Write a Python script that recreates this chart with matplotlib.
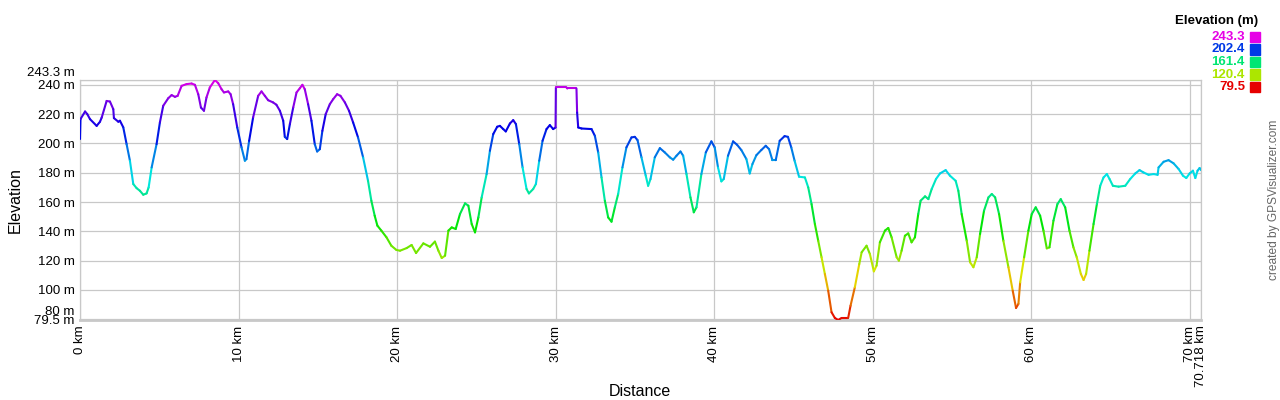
import numpy as np
import matplotlib
matplotlib.use("Agg")
import matplotlib.pyplot as plt
from matplotlib.collections import LineCollection
from matplotlib.colors import hsv_to_rgb
from matplotlib.transforms import ScaledTranslation

plt.rcParams['font.family'] = ['Liberation Sans', 'DejaVu Sans']

# elevation profile: (km, m)
leg1 = [(0, 203), (0.03, 216.6), (0.32, 221.8), (0.46, 220), (0.63, 216.6), (1.05, 212),
        (1.26, 214.8), (1.37, 217.7), (1.68, 229), (1.89, 228.6), (2.10, 223.4), (2.14, 217.3),
        (2.42, 214.8), (2.52, 215.5), (2.73, 211), (2.94, 199.5), (3.15, 188.2), (3.36, 172.3),
        (3.57, 169.5), (3.78, 167.7), (3.99, 165), (4.20, 165.9), (4.33, 170), (4.52, 183.6),
        (4.83, 199.5), (5.04, 214.3), (5.25, 225.7), (5.57, 230.9), (5.78, 233), (5.99, 231.8),
        (6.16, 232.5), (6.41, 239.3), (6.72, 240.5), (7.04, 240.9), (7.25, 240), (7.46, 233.6),
        (7.63, 224.5), (7.82, 222.3), (7.98, 231.4), (8.19, 238.2), (8.51, 243.3), (8.72, 241.1),
        (8.93, 237), (9.08, 234.8), (9.35, 235.5), (9.50, 233.6), (9.66, 226.8), (9.92, 210.9),
        (10.19, 197.3), (10.40, 188.2), (10.50, 189.3), (10.67, 201.8), (10.92, 217.7),
        (11.24, 232.5), (11.45, 235.5), (11.66, 232.5), (11.87, 229.5), (12.18, 228),
        (12.39, 226.4), (12.61, 222.3), (12.82, 215.5), (12.92, 204.5), (13.07, 203),
        (13.24, 213.2), (13.45, 224.5), (13.66, 234.8), (13.87, 237.7), (14.03, 240),
        (14.18, 237), (14.39, 226.8), (14.60, 215.5), (14.81, 199.5), (14.96, 194.5),
        (15.13, 196.1), (15.29, 208.6), (15.50, 220), (15.76, 226.8), (15.97, 230.2),
        (16.22, 233.6), (16.43, 232.5), (16.71, 228), (16.97, 222.3), (17.23, 214.3),
        (17.54, 204.1), (17.86, 190.5), (18.17, 174.5), (18.38, 160.9), (18.59, 150.7),
        (18.76, 143.9), (19.01, 140.5), (19.33, 136), (19.64, 130.2), (19.96, 127.3)]

leg2 = [(20.19, 126.8), (20.61, 128.6), (20.92, 130.7), (21.2, 125.2), (21.66, 131.8),
        (22.08, 129.5), (22.39, 133), (22.61, 126.8), (22.82, 121.8), (23.03, 123.4),
        (23.24, 140.5), (23.45, 142.7), (23.7, 141.6), (23.97, 151.8), (24.29, 159.1),
        (24.5, 157.5), (24.71, 145), (24.92, 139.3), (25.13, 149.5), (25.34, 163.2),
        (25.65, 179.1), (25.86, 195), (26.07, 206.4), (26.32, 211.4), (26.49, 212),
        (26.7, 209.8), (26.86, 208.2), (27.12, 213.6), (27.33, 215.9), (27.5, 213.2),
        (27.71, 199.5), (27.92, 183.6), (28.17, 168.9), (28.32, 165.9), (28.59, 168.9),
        (28.76, 172.3), (28.97, 188.2), (29.18, 201.8), (29.43, 209.8), (29.64, 212.5),
        (29.85, 209.8), (30.0, 210.9), (30.02, 238.2), (30.69, 238.2), (30.74, 237.5),
        (31.32, 237.5), (31.36, 221.1), (31.43, 210.9), (31.64, 210.2), (32.27, 209.8),
        (32.48, 205.2), (32.69, 193.9), (32.9, 176.8), (33.11, 160.9), (33.32, 149.5),
        (33.53, 146.6), (33.74, 156.4), (33.95, 165.5), (34.22, 183.6), (34.47, 197.3),
        (34.79, 204.1), (35.0, 204.5), (35.17, 202.3), (35.42, 190.5), (35.69, 178),
        (35.84, 171.1), (35.99, 175.7), (36.26, 190.5), (36.58, 196.8), (36.89, 193.9),
        (37.21, 190.5), (37.42, 188.9), (37.63, 191.6), (37.88, 194.5), (38.05, 191.6),
        (38.26, 179.1), (38.51, 163.2), (38.72, 153), (38.89, 156.4), (39.2, 179.1),
        (39.48, 193.9), (39.83, 201.4), (40.04, 197.3), (40.25, 183.6), (40.46, 174.1),
        (40.61, 175.7), (40.88, 191.6), (41.2, 201.4), (41.45, 199.1), (41.72, 195.5),
        (42.04, 189.3), (42.25, 179.5), (42.42, 185.9), (42.67, 192), (42.98, 195.5),
        (43.26, 198.4), (43.47, 196.1), (43.68, 188.6), (43.89, 188.6), (44.14, 201.8),
        (44.45, 205), (44.66, 204.5), (44.87, 197.3), (45.08, 188.2), (45.36, 177.3)]

leg3 = [(45.73, 176.8), (45.94, 170), (46.15, 158.6), (46.36, 145), (46.57, 133.6),
        (46.78, 122.3), (46.99, 110.9), (47.2, 99.5), (47.41, 84.8), (47.62, 80.9),
        (47.83, 79.5), (48.04, 80.9), (48.46, 80.9), (48.61, 89.3), (48.88, 101.8),
        (49.16, 117.7), (49.31, 125.7), (49.62, 130.2), (49.83, 124.5), (50.08, 112.7),
        (50.25, 116.6), (50.46, 132.5), (50.78, 140.5), (50.99, 142.3), (51.2, 135.9),
        (51.52, 122.3), (51.66, 120), (51.83, 126.8), (52.04, 137), (52.25, 138.6),
        (52.46, 132.5), (52.67, 135.9), (52.88, 151.8), (53.03, 160.9), (53.31, 163.9),
        (53.52, 162), (53.73, 168.9), (54.0, 175.7), (54.25, 179.5), (54.61, 181.8),
        (54.88, 178), (55.24, 174.5), (55.41, 167.7), (55.62, 151.8), (55.94, 133.6),
        (56.15, 118.9), (56.36, 115.5), (56.57, 122.3), (56.78, 138.2), (57.03, 154.1),
        (57.31, 163.2), (57.52, 165.5), (57.73, 163.2), (57.98, 151.8), (58.25, 133.6),
        (58.57, 115.5), (58.84, 99.5), (59.05, 87.7), (59.2, 90.5), (59.31, 105.2),
        (59.56, 122.3), (59.83, 140.5), (60.04, 151.8), (60.29, 156.4), (60.57, 150.7),
        (60.78, 140.5), (60.99, 128.4), (61.16, 129.1), (61.41, 147.3), (61.66, 158.6),
        (61.87, 162), (62.15, 156.4), (62.42, 140.5), (62.67, 129.1), (62.88, 122.3),
        (63.14, 110.9), (63.31, 106.8), (63.47, 110.9), (63.68, 126.8), (63.94, 145),
        (64.15, 158.6), (64.36, 171.1), (64.57, 176.8), (64.78, 179.1), (64.95, 175.7),
        (65.16, 171.1), (65.52, 170.5), (65.94, 171.1), (66.25, 175.7), (66.57, 179.5),
        (66.84, 181.8), (67.09, 180.2), (67.41, 178.6), (67.73, 179.1), (67.98, 178.6),
        (68.04, 183.6), (68.36, 187.5), (68.67, 188.6), (68.99, 186.4), (69.31, 182.5),
        (69.58, 178), (69.79, 176.4), (70.0, 179.5), (70.21, 181.4), (70.36, 176.4),
        (70.5, 181.4), (70.63, 183.2), (70.718, 181.8)]

elev_min, elev_max = 79.5, 243.3
total_km = 70.718
x_ticks = [0, 10, 20, 30, 40, 50, 60, 70, 70.718]
x_labels = ['0 km', '10 km', '20 km', '30 km', '40 km', '50 km', '60 km', '70 km', '70.718 km']
y_ticks = [79.5, 80, 100, 120, 140, 160, 180, 200, 220, 240, 243.3]
legend_vals = [243.3, 202.4, 161.4, 120.4, 79.5]


def elev_color(e):
    # hue runs red (min) -> magenta (max)
    f = np.clip((np.asarray(e) - elev_min) / (elev_max - elev_min), 0, 1)
    hsv = np.stack([f * 300 / 360, np.ones_like(f), np.full_like(f, 0.9)], axis=-1)
    return hsv_to_rgb(hsv)


km, m = np.array(leg1 + leg2 + leg3).T

fig = plt.figure(figsize=(12.8, 4), dpi=100)
ax = fig.add_axes([80 / 1280, 80 / 400, 1121 / 1280, 240 / 400])

pts = np.column_stack([km, m]).reshape(-1, 1, 2)
segs = np.concatenate([pts[:-1], pts[1:]], axis=1)
lc = LineCollection(segs, colors=elev_color((m[:-1] + m[1:]) / 2), linewidths=1.5,
                    capstyle='round', joinstyle='round', zorder=3)
ax.add_collection(lc)

ax.set_xlim(0, total_km)
ax.set_ylim(elev_min, elev_max)

ax.set_xticks(x_ticks)
ax.set_xticklabels(x_labels, rotation=90, fontsize=9.5)
ax.set_yticks(y_ticks)
ax.set_yticklabels([f'{v:g} m' for v in y_ticks], fontsize=9.5)
ax.tick_params(length=0, pad=4)

# nudge the labels that would collide
for lab, v in zip(ax.get_yticklabels(), y_ticks):
    if v in (80, 243.3):
        lab.set_transform(lab.get_transform() + ScaledTranslation(0, 9 / 100, fig.dpi_scale_trans))

ax.grid(True, color='#c8c8c8', linewidth=0.9)
ax.set_axisbelow(True)
for s in ax.spines.values():
    s.set_color('#c8c8c8')
    s.set_linewidth(0.9)
ax.spines['bottom'].set_linewidth(2)

fig.text(15 / 1280, 0.5, 'Elevation', rotation=90, fontsize=11.5, ha='center', va='center')
fig.text(640 / 1280, 1 - 392 / 400, 'Distance', fontsize=11.5, ha='center', va='center')

# legend
fig.text(1258 / 1280, 1 - 21 / 400, 'Elevation (m)', fontsize=9.5, fontweight='bold',
         ha='right', va='center')
for i, v in enumerate(legend_vals):
    y = 1 - (37 + i * 12.5) / 400
    c = elev_color(v)
    fig.text(1245 / 1280, y, f'{v:.1f}', fontsize=9.5, fontweight='bold', color=c,
             ha='right', va='center')
    fig.patches.append(plt.Rectangle((1250 / 1280, y - 5 / 400), 10 / 1280, 10 / 400,
                                     transform=fig.transFigure, color=c, figure=fig))

fig.text(1274 / 1280, 200 / 400, 'created by GPSVisualizer.com', rotation=90, fontsize=8.6,
         color='#666666', ha='center', va='center')

fig.savefig('out.png', dpi=100)
